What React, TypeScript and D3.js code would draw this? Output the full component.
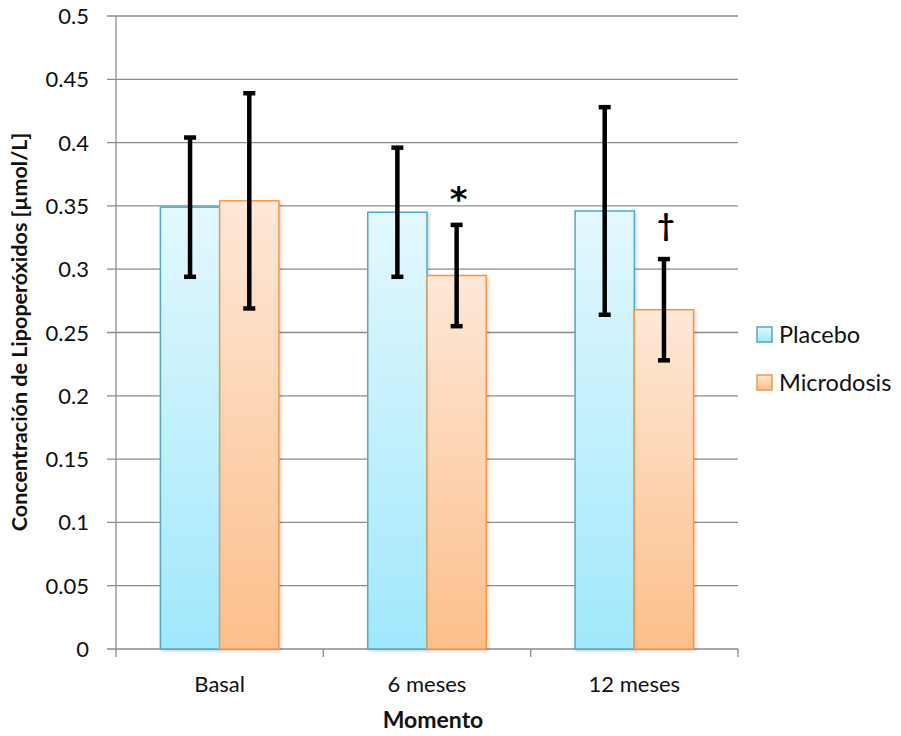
import React, { useEffect, useRef } from 'react';
import * as d3 from 'd3';

const categories = ['Basal', '6 meses', '12 meses'];
const series = ['Placebo', 'Microdosis'];
const placebo = [0.349, 0.345, 0.346];
const microdosis = [0.354, 0.295, 0.268];
const placeboErrLow = [0.294, 0.294, 0.264];
const placeboErrHigh = [0.404, 0.396, 0.428];
const microErrLow = [0.269, 0.255, 0.228];
const microErrHigh = [0.439, 0.335, 0.308];
const marks = ['', '*', '†'];
const yTicks = [0, 0.05, 0.1, 0.15, 0.2, 0.25, 0.3, 0.35, 0.4, 0.45, 0.5];

const W = 901;
const H = 736;

export default function App() {
  const svgRef = useRef<SVGSVGElement>(null);

  useEffect(() => {
    const svg = d3.select(svgRef.current);
    svg.selectAll('*').remove();

    const left = 116, right = 738, top = 16, bottom = 649;
    const font = 'Lato, "Open Sans", sans-serif';

    const x0 = d3.scaleBand().domain(categories).range([left, right]).paddingInner(0).paddingOuter(0);
    const y = d3.scaleLinear().domain([0, 0.5]).range([bottom, top]);
    const bw = x0.bandwidth() / 3.5; // gap width 150%

    const defs = svg.append('defs');
    const grads = [
      { id: 'gPlacebo', top: '#e3f8fe', bot: '#a1e8fc' },
      { id: 'gMicro', top: '#fee8d7', bot: '#fcbf8b' },
    ];
    grads.forEach(g => {
      const lg = defs.append('linearGradient').attr('id', g.id)
        .attr('x1', 0).attr('y1', 0).attr('x2', 0).attr('y2', 1);
      lg.append('stop').attr('offset', '0%').attr('stop-color', g.top);
      lg.append('stop').attr('offset', '100%').attr('stop-color', g.bot);
    });
    const shadow = defs.append('filter').attr('id', 'shadow')
      .attr('x', '-10%').attr('y', '-10%').attr('width', '130%').attr('height', '130%');
    shadow.append('feDropShadow').attr('dx', 1.5).attr('dy', 1.5).attr('stdDeviation', 1.5)
      .attr('flood-color', '#000').attr('flood-opacity', 0.18);

    const strokes = ['#4bacc6', '#f79646'];
    const fills = ['url(#gPlacebo)', 'url(#gMicro)'];

    // gridlines
    svg.append('g').selectAll('line').data(yTicks).join('line')
      .attr('x1', left - 9).attr('x2', right)
      .attr('y1', d => y(d)).attr('y2', d => y(d))
      .attr('stroke', '#8c8c8c').attr('stroke-width', 1.3);

    // y labels
    svg.append('g').selectAll('text').data(yTicks).join('text')
      .attr('x', 89).attr('y', d => y(d) + 8)
      .attr('text-anchor', 'end').attr('font-family', font).attr('font-size', 22)
      .attr('fill', '#111').text(d => String(d));

    // axes lines
    svg.append('line').attr('x1', left).attr('x2', left).attr('y1', top).attr('y2', bottom)
      .attr('stroke', '#8c8c8c').attr('stroke-width', 1.3);
    const bTicks = [left, ...categories.map(c => (x0(c) as number) + x0.bandwidth())];
    svg.append('g').selectAll('line').data(bTicks).join('line')
      .attr('x1', d => d).attr('x2', d => d).attr('y1', bottom).attr('y2', bottom + 8)
      .attr('stroke', '#8c8c8c').attr('stroke-width', 1.3);

    const vals = [placebo, microdosis];
    const lows = [placeboErrLow, microErrLow];
    const highs = [placeboErrHigh, microErrHigh];

    // bars
    categories.forEach((c, i) => {
      const cx = (x0(c) as number) + x0.bandwidth() / 2;
      series.forEach((s, j) => {
        const bx = cx - bw + j * bw;
        svg.append('rect')
          .attr('x', bx).attr('y', y(vals[j][i]))
          .attr('width', bw).attr('height', bottom - y(vals[j][i]))
          .attr('fill', fills[j]).attr('stroke', strokes[j]).attr('stroke-width', 1.5)
          .attr('filter', 'url(#shadow)');
      });
    });

    // error bars
    categories.forEach((c, i) => {
      const cx = (x0(c) as number) + x0.bandwidth() / 2;
      series.forEach((s, j) => {
        const ex = cx - bw + j * bw + bw / 2;
        const g = svg.append('g').attr('stroke', '#000');
        g.append('line').attr('x1', ex).attr('x2', ex)
          .attr('y1', y(highs[j][i])).attr('y2', y(lows[j][i])).attr('stroke-width', 4.5);
        [highs[j][i], lows[j][i]].forEach(v => {
          g.append('line').attr('x1', ex - 6).attr('x2', ex + 6)
            .attr('y1', y(v)).attr('y2', y(v)).attr('stroke-width', 4.5);
        });
      });
      if (marks[i]) {
        const ex = cx + bw / 2 + 2;
        const isStar = marks[i] === '*';
        svg.append('text').attr('x', ex).attr('y', y(microErrHigh[i]) - (isStar ? 14 : 23))
          .attr('text-anchor', 'middle')
          .attr('font-family', isStar ? '"DejaVu Sans", sans-serif' : font)
          .attr('font-weight', 'bold').attr('font-size', isStar ? 34 : 30).text(marks[i]);
      }
    });

    // x labels
    svg.append('g').selectAll('text').data(categories).join('text')
      .attr('x', d => (x0(d) as number) + x0.bandwidth() / 2).attr('y', 692)
      .attr('text-anchor', 'middle').attr('font-family', font).attr('font-size', 22)
      .attr('fill', '#111').text(d => d);

    // axis titles
    svg.append('text').attr('x', 433).attr('y', 728)
      .attr('text-anchor', 'middle').attr('font-family', font).attr('font-size', 23)
      .attr('font-weight', 'bold').attr('fill', '#111').text('Momento');
    svg.append('text').attr('transform', `translate(27, 332) rotate(-90)`)
      .attr('text-anchor', 'middle').attr('font-family', font).attr('font-size', 21.5)
      .attr('font-weight', 'bold').attr('fill', '#111')
      .text('Concentración de Lipoperóxidos [µmol/L]');

    // legend
    series.forEach((s, j) => {
      const ly = 334.5 + j * 48;
      svg.append('rect').attr('x', 757).attr('y', ly - 7.5).attr('width', 15).attr('height', 15)
        .attr('fill', fills[j]).attr('stroke', strokes[j]).attr('stroke-width', 1.5);
      svg.append('text').attr('x', 779).attr('y', ly + 8)
        .attr('font-family', font).attr('font-size', 23.5).attr('fill', '#111').text(s);
    });
  }, []);

  return (
    <div style={{ width: W, height: H }}>
      <svg ref={svgRef} width={W} height={H} style={{ position: 'absolute', left: 0, top: 0, background: '#fff' }} />
    </div>
  );
}
